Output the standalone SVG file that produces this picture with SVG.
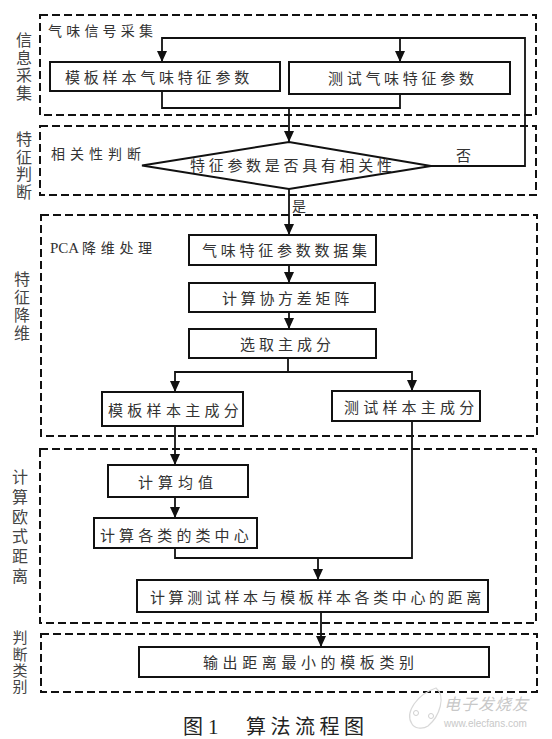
<svg xmlns="http://www.w3.org/2000/svg" width="552" height="739" viewBox="0 0 552 739">
<defs>
<marker id="arr" markerUnits="userSpaceOnUse" markerWidth="11" markerHeight="10" refX="11" refY="5" orient="auto-start-reverse" viewBox="0 0 11 10">
<path d="M0,0 L11,5 L0,10 Z" fill="#111"/>
</marker>
<style>
.dash{fill:none;stroke:#111;stroke-width:2;stroke-dasharray:8 4}
.box{fill:#fff;stroke:#111;stroke-width:2}
.ln{fill:none;stroke:#111;stroke-width:1.8}
.t{font-family:"Noto Sans CJK SC","Noto Sans",sans-serif;font-size:15px;fill:#333;letter-spacing:3.7px}
.v{font-family:"Noto Sans CJK SC","Noto Sans",sans-serif;font-size:16px;fill:#444;writing-mode:vertical-rl}
.wm{font-family:"Noto Sans CJK SC",sans-serif;fill:#c8c8c8}
</style>
</defs>
<rect width="552" height="739" fill="#fff"/>

<g id="sections">
<rect class="dash" x="40" y="15" width="496" height="100"/>
<rect class="dash" x="40" y="126" width="496" height="69"/>
<rect class="dash" x="41" y="215" width="496" height="221"/>
<rect class="dash" x="40" y="449" width="496" height="174"/>
<rect class="dash" x="41" y="634" width="496" height="58"/>
</g>

<g id="side-labels">
<text class="v" x="24" y="32" style="letter-spacing:1.5px">信息采集</text>
<text class="v" x="24" y="131" style="letter-spacing:1.5px">特征判断</text>
<text class="v" x="22" y="271" style="letter-spacing:2px">特征降维</text>
<text class="v" x="20" y="469" style="letter-spacing:3.8px">计算欧式距离</text>
<text class="v" x="20" y="630" style="font-size:15px;letter-spacing:1.4px">判断类别</text>
</g>

<g id="section-titles">
<text class="t" x="48" y="36" style="font-size:14px;letter-spacing:4.2px">气味信号采集</text>
<text class="t" x="51" y="159" style="font-size:14px;letter-spacing:5px">相关性判断</text>
<text x="50" y="253" style="font-family:'Liberation Serif',serif;font-size:15px;fill:#333">PCA</text>
<text class="t" x="82" y="253" style="font-size:14px;letter-spacing:4.7px">降维处理</text>
</g>

<g id="connectors">
<polyline class="ln" points="431,166 525,166 525,38 162,38 162,62" marker-end="url(#arr)"/>
<line class="ln" x1="400" y1="38" x2="400" y2="62" marker-end="url(#arr)"/>
<polyline class="ln" points="162,91 162,108 400,108 400,94"/>
<line class="ln" x1="289" y1="108" x2="289" y2="142" marker-end="url(#arr)"/>
<line class="ln" x1="289" y1="189" x2="289" y2="235" marker-end="url(#arr)"/>
<line class="ln" x1="289" y1="265" x2="289" y2="283" marker-end="url(#arr)"/>
<line class="ln" x1="289" y1="312" x2="289" y2="329" marker-end="url(#arr)"/>
<line class="ln" x1="288" y1="358" x2="288" y2="372"/>
<polyline class="ln" points="175,392 175,372 412,372 412,391" marker-start="url(#arr)" marker-end="url(#arr)"/>
<line class="ln" x1="175" y1="426" x2="175" y2="465" marker-end="url(#arr)"/>
<line class="ln" x1="175" y1="497" x2="175" y2="518" marker-end="url(#arr)"/>
<polyline class="ln" points="175,548 175,558 412,558 412,421"/>
<line class="ln" x1="318" y1="558" x2="318" y2="580" marker-end="url(#arr)"/>
<line class="ln" x1="321" y1="612" x2="321" y2="647" marker-end="url(#arr)"/>
</g>

<g id="n-template-feat">
<rect class="box" x="50" y="62" width="230" height="29"/>
<text class="t" x="65" y="82.5" style="letter-spacing:3.8px">模板样本气味特征参数</text>
</g>
<g id="n-test-feat">
<rect class="box" x="289" y="62" width="221" height="32"/>
<text class="t" x="328" y="83.5">测试气味特征参数</text>
</g>
<g id="n-decision">
<polygon class="box" points="142,165.5 289,142 431,166 289,189"/>
<text class="t" x="190" y="171">特征参数是否具有相关性</text>
<text class="t" x="456" y="161">否</text>
<text class="t" x="292" y="211" style="font-size:14px">是</text>
</g>
<g id="n-dataset">
<rect class="box" x="189" y="235" width="187" height="30"/>
<text class="t" x="202" y="256" style="letter-spacing:3.75px">气味特征参数数据集</text>
</g>
<g id="n-cov">
<rect class="box" x="189" y="283" width="186" height="29"/>
<text class="t" x="222" y="303.5">计算协方差矩阵</text>
</g>
<g id="n-pc">
<rect class="box" x="189" y="329" width="187" height="29"/>
<text class="t" x="240" y="349.5" style="letter-spacing:4px">选取主成分</text>
</g>
<g id="n-template-pc">
<rect class="box" x="102" y="392" width="141" height="34"/>
<text class="t" x="108" y="415.5" style="letter-spacing:4.3px">模板样本主成分</text>
</g>
<g id="n-test-pc">
<rect class="box" x="332" y="391" width="148" height="30"/>
<text class="t" x="344" y="412.5" style="letter-spacing:4.2px">测试样本主成分</text>
</g>
<g id="n-mean">
<rect class="box" x="108" y="465" width="140" height="32"/>
<text class="t" x="138" y="487.5" style="letter-spacing:5px">计算均值</text>
</g>
<g id="n-centers">
<rect class="box" x="94" y="518" width="163" height="30"/>
<text class="t" x="100" y="540.5" style="letter-spacing:4.1px">计算各类的类中心</text>
</g>
<g id="n-distance">
<rect class="box" x="137" y="580" width="351" height="32"/>
<text class="t" x="150" y="602.5" style="letter-spacing:3.6px">计算测试样本与模板样本各类中心的距离</text>
</g>
<g id="n-output">
<rect class="box" x="139" y="647" width="350" height="30"/>
<text class="t" x="203" y="667.5" style="letter-spacing:4.6px">输出距离最小的模板类别</text>
</g>

<g id="caption">
<text x="183" y="734" style="font-family:'Noto Sans CJK SC',sans-serif;font-size:20px;fill:#222">图</text>
<text x="208" y="734" style="font-family:'Liberation Serif',serif;font-size:21px;fill:#222">1</text>
<text x="246" y="734" style="font-family:'Noto Sans CJK SC',sans-serif;font-size:20px;fill:#222;letter-spacing:4.5px">算法流程图</text>
</g>

<g id="watermark">
<path d="M412,724 C404,712 418,694 436,688 C446,696 440,716 428,726 C422,730 414,728 412,724 Z" fill="none" stroke="#d8d8d8" stroke-width="1.2"/>
<circle cx="416" cy="713" r="2.5" fill="none" stroke="#d0d0d0"/>
<circle cx="431" cy="716" r="2.5" fill="none" stroke="#d0d0d0"/>
<text class="wm" x="444" y="710" style="font-size:16px;font-style:italic;letter-spacing:1px">电子发烧友</text>
<text class="wm" x="444" y="727" style="font-family:'Liberation Sans',sans-serif;font-size:10px">www.elecfans.com</text>
</g>
</svg>
